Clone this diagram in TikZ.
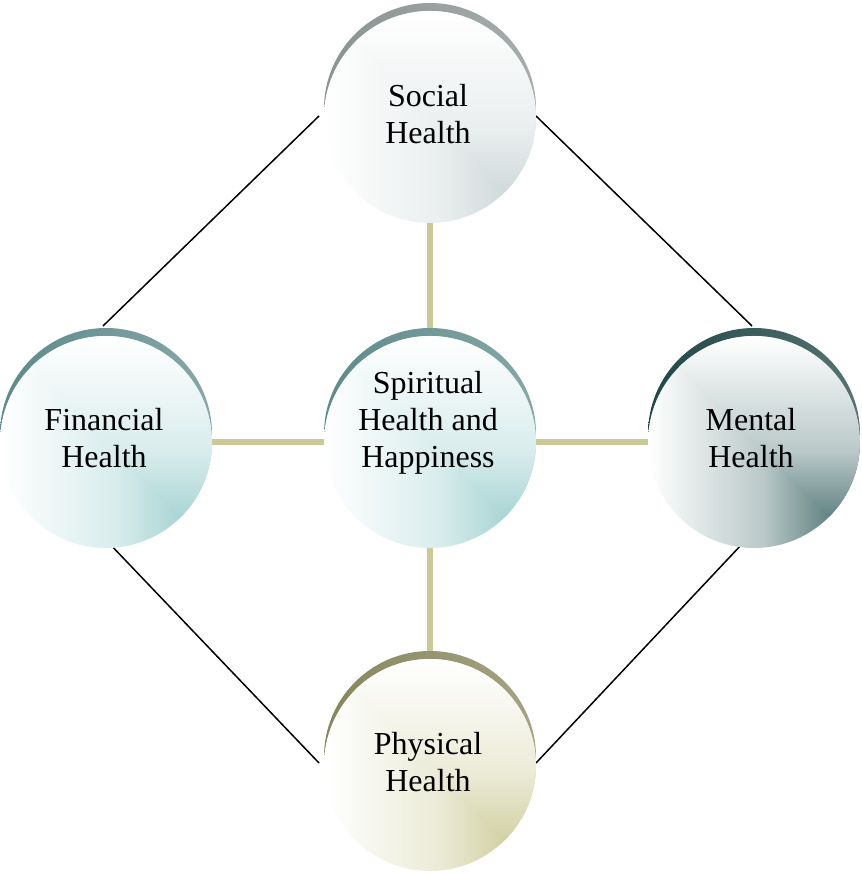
\documentclass[tikz,border=0pt]{standalone}
\usepackage{fontspec}
\setmainfont{Liberation Serif}
\usetikzlibrary{backgrounds,calc}
\definecolor{socC}{HTML}{C9D4D5}
\definecolor{socR}{HTML}{8A9292}
\definecolor{teaC}{HTML}{9CCECE}
\definecolor{teaR}{HTML}{5E8A8A}
\definecolor{menC}{HTML}{4A7070}
\definecolor{menR}{HTML}{1F4646}
\definecolor{phyC}{HTML}{CBCA96}
\definecolor{phyR}{HTML}{86865C}
\definecolor{beigeC}{HTML}{CBCA96}
\newcommand\mkshade[2]{%
  \pgfdeclarehorizontalshading{h#1}{100bp}{color(0bp)=(white); color(25bp)=(white); color(52bp)=(#2!38!white); color(72bp)=(#2); color(100bp)=(#2)}%
  \pgfdeclareverticalshading{v#1}{100bp}{color(0bp)=(#2); color(28bp)=(#2); color(48bp)=(#2!38!white); color(75bp)=(white); color(100bp)=(white)}}
\mkshade{soc}{socC}
\mkshade{tea}{teaC}
\mkshade{men}{menC}
\mkshade{phy}{phyC}
\newcommand\ballpaint[2]{%
  \begin{scope}
    \clip (#1.center) circle[radius=106];
    \shade[shading=h#2] ($(#1.center)+(-106,-106)$) rectangle ($(#1.center)+(106,106)$);
    \clip ($(#1.center)+(-106,106)$) -- ($(#1.center)+(106,106)$) -- ($(#1.center)+(106,-106)$) -- cycle;
    \shade[shading=v#2] ($(#1.center)+(-106,-106)$) rectangle ($(#1.center)+(106,106)$);
  \end{scope}}
\begin{document}
\begin{tikzpicture}[x=1pt,y=1pt,
  ball/.style={circle, minimum size=212pt, inner sep=0pt, outer sep=0pt},
  rim/.style={circle, minimum size=212pt, inner sep=0pt, outer sep=0pt, left color=#1, right color=#1!75!white},
  lbl/.style={font=\fontsize{32}{37}\selectfont, align=center, inner sep=0pt, anchor=base},
  blk/.style={draw=black, line width=1.5pt},
  bge/.style={draw=beigeC, line width=6pt}]
\useasboundingbox (0,0) rectangle (861,874);
% Social
\node[rim=socR] (socRim) at (430,765) {};
\node[ball] (soc) at (430,757) {};
\ballpaint{soc}{soc}
% Financial
\node[rim=teaR] (finRim) at (106,440) {};
\node[ball] (fin) at (106,432) {};
\ballpaint{fin}{tea}
% Spiritual
\node[rim=teaR] (spiRim) at (430,440) {};
\node[ball] (spi) at (430,432) {};
\ballpaint{spi}{tea}
% Mental
\node[rim=menR] (menRim) at (754,440) {};
\node[ball] (men) at (754,432) {};
\ballpaint{men}{men}
% Physical
\node[rim=phyR] (phyRim) at (430,117) {};
\node[ball] (phy) at (430,109) {};
\ballpaint{phy}{phy}
% labels (anchor = baseline of last line)
\node[lbl] (socT) at (428,730) {Social\\Health};
\node[lbl] (spiT) at (428,406) {Spiritual\\Health and\\Happiness};
\node[lbl] (finT) at (104,406) {Financial\\Health};
\node[lbl] (menT) at (751,406) {Mental\\Health};
\node[lbl] (phyT) at (428,82) {Physical\\Health};
\begin{scope}[on background layer]
\draw[blk] ($(soc.west)+(-5,1)$) -- ($(fin.north)+(-3,10)$);
\draw[blk] ($(soc.east)+(0,1)$) -- ($(men.north)+(-2,10)$);
\draw[blk] ($(fin.center)+(-86:106)$) -- ($(phy.west)+(-5,2)$);
\draw[blk] ($(men.center)+(-98:106)$) -- ($(phy.east)+(0,2)$);
\draw[bge] (soc.south) -- (spi.north);
\draw[bge] (spi.south) -- (phy.north);
\draw[bge] (fin.east) -- (spi.west);
\draw[bge] (spi.east) -- (men.west);
\end{scope}
\end{tikzpicture}
\end{document}
